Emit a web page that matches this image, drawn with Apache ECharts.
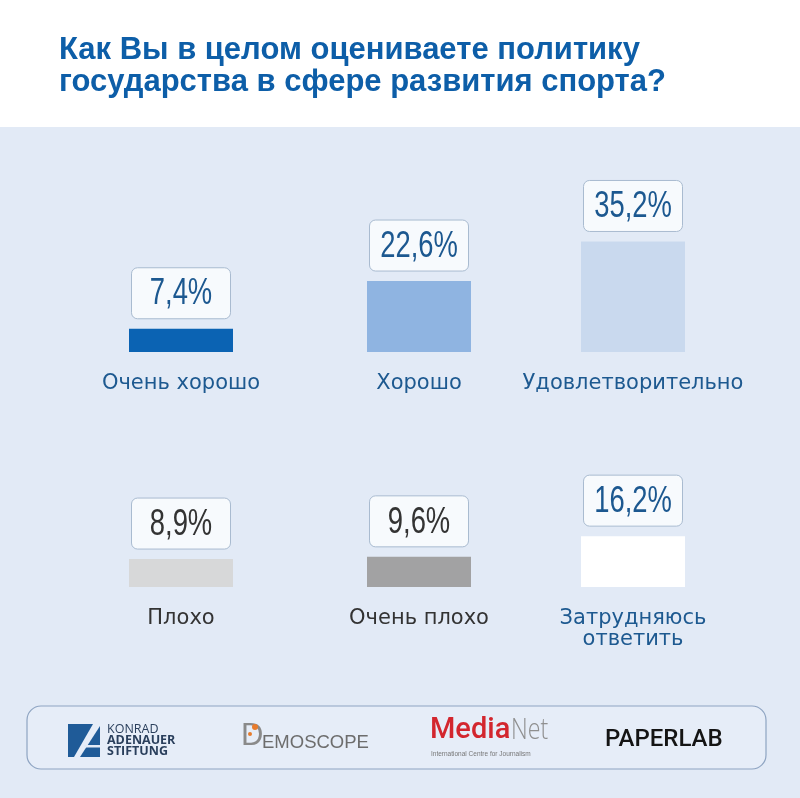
<!DOCTYPE html>
<html>
<head>
<meta charset="utf-8">
<script src="https://cdn.jsdelivr.net/npm/echarts@6/dist/echarts.min.js"></script>
<style>
html,body{margin:0;padding:0;background:#ffffff;}
#chart{width:800px;height:798px;}
</style>
</head>
<body>
<div id="chart"></div>
<script>
// ---- data ----
const titleText = 'Как Вы в целом оцениваете политику\nгосударства в сфере развития спорта?';
const categories = ['Очень хорошо', 'Хорошо', 'Удовлетворительно', 'Плохо', 'Очень плохо', 'Затрудняюсь\nответить'];
const values = [7.4, 22.6, 35.2, 8.9, 9.6, 16.2];
const valueMax = 40;

// ---- styles ----
const barColors = ['#0b63b3', '#8fb4e1', '#c9d9ee', '#d7d8d9', '#a2a2a3', '#ffffff'];
const textColors = ['#1d5990', '#1d5990', '#1d5990', '#333333', '#333333', '#1d5990'];
const valueColors = ['#1c5890', '#1c5890', '#1c5890', '#333333', '#333333', '#1c5890'];
const colLeft = [129, 367, 581];
const colWidth = 104;
const rowBottom = [352, 587];
const plotH = 125.6;
const bg = '#e2eaf6';

const fmt = v => v.toFixed(1).replace('.', ',') + '%';

const grids = [], xAxes = [], yAxes = [], series = [];
values.forEach((v, i) => {
  const col = i % 3, row = Math.floor(i / 3);
  grids.push({left: colLeft[col], width: colWidth, top: rowBottom[row] - plotH, height: plotH, containLabel: false});
  xAxes.push({
    type: 'category', gridIndex: i, data: [categories[i]],
    axisLine: {show: false}, axisTick: {show: false}, splitLine: {show: false},
    axisLabel: {interval: 0, margin: 21, color: textColors[i], fontSize: 21, lineHeight: 21,
      fontFamily: 'DejaVu Sans, sans-serif'}
  });
  yAxes.push({type: 'value', gridIndex: i, min: 0, max: valueMax, show: false, splitLine: {show: false}});
  series.push({
    type: 'bar', xAxisIndex: i, yAxisIndex: i, data: [v], barWidth: '100%',
    itemStyle: {color: barColors[i]}, silent: true
  });
  // value label box drawn above each bar through the axis scales
  series.push({
    type: 'custom', xAxisIndex: i, yAxisIndex: i, data: [[0, v]], silent: true, z: 5,
    renderItem: (params, api) => {
      const pt = api.coord([api.value(0), api.value(1)]);
      const boxW = 99, boxH = 51, gap = 10;
      const top = pt[1] - gap - boxH;
      return {
        type: 'group',
        children: [
          {type: 'rect', shape: {x: pt[0] - boxW / 2, y: top, width: boxW, height: boxH, r: 6},
            style: {fill: '#f7fafd', stroke: '#a9bbd0', lineWidth: 1}},
          {type: 'text', x: pt[0], y: top + boxH / 2 + 1, scaleX: 0.74,
            style: {text: fmt(api.value(1)), fill: valueColors[i], fontSize: 37,
              fontFamily: 'Liberation Sans, Arial, sans-serif', align: 'center', verticalAlign: 'middle'}}
        ]
      };
    }
  });
});

const chart = echarts.init(document.getElementById('chart'), null, {renderer: 'canvas'});
chart.setOption({
  animation: false,
  backgroundColor: '#ffffff',
  title: {
    text: titleText, left: 54, top: 29,
    textStyle: {color: '#0d5ea8', fontSize: 31, fontWeight: 'bold', lineHeight: 32,
      fontFamily: 'Liberation Sans, Arial, sans-serif'}
  },
  grid: grids, xAxis: xAxes, yAxis: yAxes, series: series,
  graphic: [
    {type: 'rect', z: -10, shape: {x: 0, y: 127, width: 800, height: 671}, style: {fill: bg}},
    {type: 'rect', z: -5, shape: {x: 27, y: 706, width: 739, height: 63, r: 14},
      style: {fill: '#e6edf8', stroke: '#8ea4c2', lineWidth: 1.2}},
    // Konrad Adenauer Stiftung logo
    {type: 'polygon', shape: {points: [[68, 724], [93, 724], [74, 757], [68, 757]]}, style: {fill: '#1f5b98'}},
    {type: 'polygon', shape: {points: [[100, 726], [100, 757], [80, 757]]}, style: {fill: '#1f5b98'}},
    {type: 'rect', shape: {x: 84, y: 745, width: 16, height: 2.5}, style: {fill: bg}},
    {type: 'text', left: 107, top: 723, style: {text: 'KONRAD', fill: '#2a3f5c', fontSize: 12.5, fontFamily: 'Open Sans, sans-serif'}},
    {type: 'text', left: 107, top: 734, style: {text: 'ADENAUER', fill: '#2a3f5c', fontSize: 12.5, fontWeight: 'bold', fontFamily: 'Open Sans, sans-serif'}},
    {type: 'text', left: 107, top: 745, style: {text: 'STIFTUNG', fill: '#2a3f5c', fontSize: 12.5, fontWeight: 'bold', fontFamily: 'Open Sans, sans-serif'}},
    // Demoscope logo
    {type: 'text', left: 241, top: 721, style: {text: 'D', fill: '#8a8a8a', fontSize: 31, fontFamily: 'Liberation Sans, sans-serif'}},
    {type: 'circle', shape: {cx: 255, cy: 727, r: 3}, style: {fill: '#e87b2c'}},
    {type: 'circle', shape: {cx: 250, cy: 734, r: 2}, style: {fill: '#e87b2c'}},
    {type: 'text', left: 262, top: 733, style: {text: 'EMOSCOPE', fill: '#6d6d6d', fontSize: 18.5, fontFamily: 'Liberation Sans, sans-serif'}},
    // MediaNet logo
    {type: 'text', x: 430, y: 716, style: {text: 'Media', fill: '#d3262e', fontSize: 29, fontFamily: 'Roboto, sans-serif', fontWeight: 500}},
    {type: 'text', x: 511, y: 716, scaleX: 0.8, style: {text: 'Net', fill: '#8f8f8f', fontSize: 29, fontFamily: 'Open Sans, sans-serif', fontWeight: 300}},
    {type: 'text', left: 431, top: 751, style: {text: 'International Centre for Journalism', fill: '#777777', fontSize: 6.5, fontFamily: 'Liberation Sans, sans-serif'}},
    // PaperLab logo
    {type: 'text', left: 605, top: 728, style: {text: 'PAPERLAB', fill: '#141414', fontSize: 24, fontWeight: 500, fontFamily: 'Roboto, sans-serif'}}
  ]
});
</script>
</body>
</html>
